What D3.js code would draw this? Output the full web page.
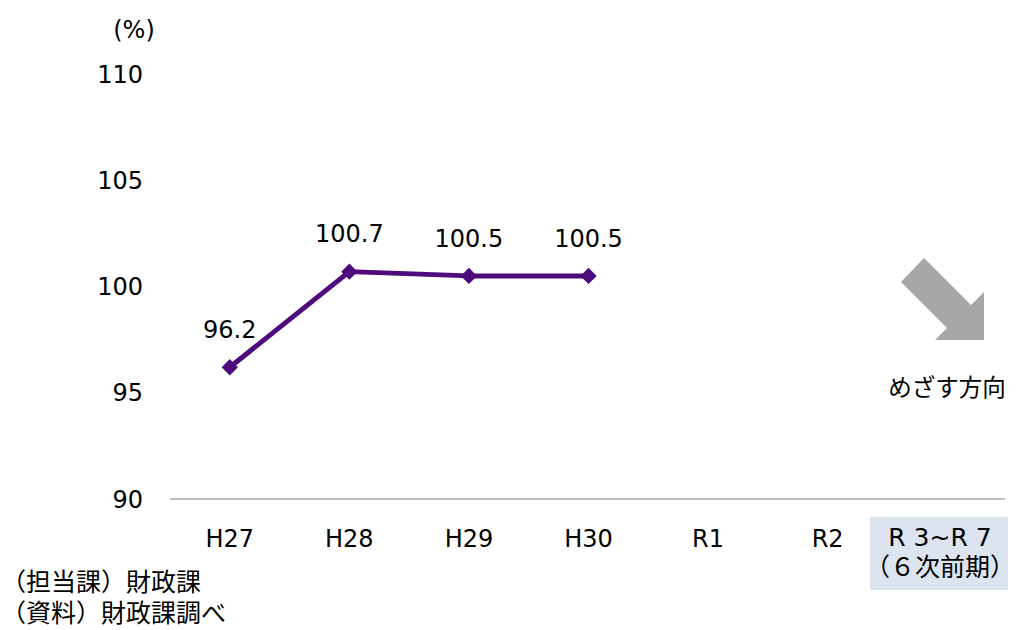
<!DOCTYPE html>
<html><head><meta charset="utf-8">
<script src="https://cdn.jsdelivr.net/npm/d3@7"></script>
<style>
html,body{margin:0;padding:0;background:#fff;}
text{font-family:"DejaVu Sans","Noto Sans CJK JP",sans-serif;fill:#000;}
</style></head>
<body>
<svg id="chart" width="1019" height="630"></svg>
<script>
const categories = ["H27","H28","H29","H30","R1","R2","R3~R7"];
const values = [96.2, 100.7, 100.5, 100.5, null, null, null];
const yTicks = [90, 95, 100, 105, 110];
const unitLabel = "(%)";
const lastCatLines = ["R 3~R 7", "（６次前期）"];
const arrowLabel = "めざす方向";
const notes = ["（担当課）財政課", "（資料）財政課調べ"];

const svg = d3.select("#chart");
const x = d3.scaleBand().domain(categories).range([170, 1007]);
const y = d3.scaleLinear().domain([90, 110]).range([499, 74]);
const fs = 24;

// y tick labels
svg.append("g").selectAll("text").data(yTicks).join("text")
  .attr("x", 143).attr("y", d => y(d)).attr("dy", "0.36em")
  .attr("text-anchor", "end").style("font-size", fs + "px").text(d => d);
svg.append("text").attr("x", 134).attr("y", 29).attr("dy", "0.36em")
  .attr("text-anchor", "middle").style("font-size", fs + "px").text(unitLabel);

// axis line
svg.append("line").attr("x1", 170).attr("x2", 1005).attr("y1", y(90)).attr("y2", y(90))
  .attr("stroke", "#808080").attr("stroke-width", 1);

// last category box
const lastCat = categories[categories.length - 1];
svg.append("rect").attr("x", 870).attr("y", 517).attr("width", 138).attr("height", 73)
  .attr("fill", "#dce4f0");

// category labels
svg.append("g").selectAll("text").data(categories.slice(0, -1)).join("text")
  .attr("x", d => x(d) + x.bandwidth() / 2).attr("y", 538).attr("dy", "0.36em")
  .attr("text-anchor", "middle").style("font-size", fs + "px").text(d => d);
svg.append("g").selectAll("text").data(lastCatLines).join("text")
  .attr("x", 940).attr("y", (d, i) => 537 + i * 30).attr("dy", "0.36em")
  .attr("text-anchor", "middle").style("font-size", "25px").text(d => d);

// line
const pts = categories.map((c, i) => ({c, v: values[i]})).filter(d => d.v != null);
const color = "#4e0b7b";
svg.append("path").datum(pts)
  .attr("d", d3.line().x(d => x(d.c) + x.bandwidth() / 2).y(d => y(d.v)))
  .attr("fill", "none").attr("stroke", color).attr("stroke-width", 5).attr("stroke-linejoin", "round");
svg.append("g").selectAll("path").data(pts).join("path")
  .attr("transform", d => `translate(${x(d.c) + x.bandwidth() / 2},${y(d.v)})`)
  .attr("d", d3.symbol().type(d3.symbolDiamond2).size(170))
  .attr("fill", color);
svg.append("g").selectAll("text").data(pts).join("text")
  .attr("x", d => x(d.c) + x.bandwidth() / 2).attr("y", d => y(d.v) - 38).attr("dy", "0.36em")
  .attr("text-anchor", "middle").style("font-size", fs + "px").text(d => d.v.toFixed(1));

// arrow
const arrowPts = [[924,258],[971,305],[984,292],[984,340],[935,340],[947,328],[901,282]];
svg.append("polygon").attr("points", arrowPts.map(p => p.join(",")).join(" ")).attr("fill", "#a6a6a6");
svg.append("text").attr("x", 947).attr("y", 388).attr("dy", "0.36em")
  .attr("text-anchor", "middle").style("font-size", "23.5px").text(arrowLabel);

// notes
svg.append("g").selectAll("text").data(notes).join("text")
  .attr("x", 1).attr("y", (d, i) => 582 + i * 31).attr("dy", "0.36em")
  .style("font-size", "25px").text(d => d);
</script>
</body></html>
